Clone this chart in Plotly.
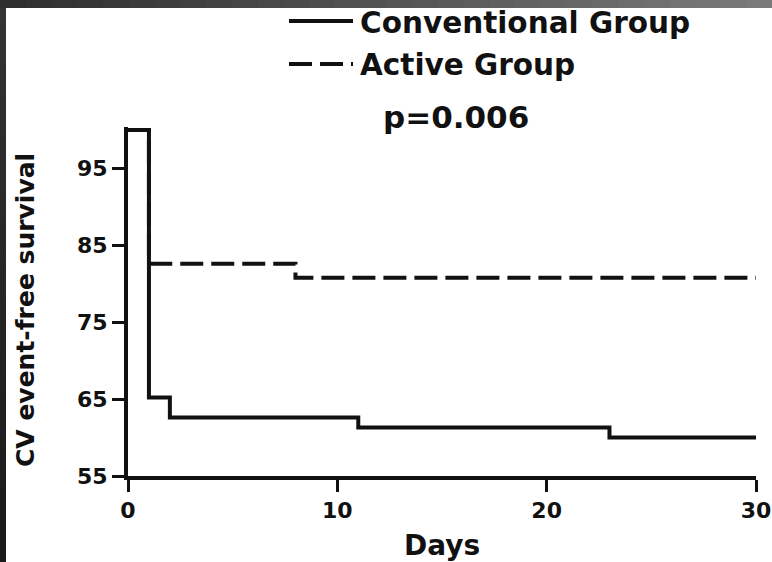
import plotly.graph_objects as go

# ---- data ----
conv_days = [0, 1, 2, 11, 23, 30]
conv_surv = [100, 65.2, 62.6, 61.3, 60.0, 60.0]
act_days = [0, 1, 8, 30]
act_surv = [100, 82.6, 80.8, 80.8]

x_ticks = [0, 10, 20, 30]
y_ticks = [55, 65, 75, 85, 95]

series_names = ["Conventional Group", "Active Group"]
p_text = "p=0.006"
x_title = "Days"
y_title = "CV event-free survival"

W, H = 772, 562
L, R, T, B = 128, 16, 127, 86
PW, PH = W - L - R, H - T - B


def px_x(px):
    return (px - L) / PW


def px_y(py):
    return (H - B - py) / PH


FONT = "DejaVu Sans"
INK = "#111111"
DASH = "23px,8px"

fig = go.Figure()
fig.add_trace(go.Scatter(x=act_days, y=act_surv, mode="lines", line_shape="hv",
                         line=dict(color=INK, width=4, dash=DASH),
                         name=series_names[1], showlegend=False))
fig.add_trace(go.Scatter(x=conv_days, y=conv_surv, mode="lines", line_shape="hv",
                         line=dict(color=INK, width=4),
                         name=series_names[0], showlegend=False))

shapes = []
# dark frame bands (gradient approximated by strips)
n = 30
for i in range(n):
    f = i / (n - 1)
    c = int(0x2e + f * (0x7a - 0x2e))
    shapes.append(dict(type="rect", xref="paper", yref="paper",
                       x0=px_x(i * W / n), x1=px_x((i + 1) * W / n + 1),
                       y0=px_y(8), y1=px_y(0), fillcolor=f"rgb({c},{c},{c})",
                       line=dict(width=0), layer="above"))
for i in range(n):
    f = i / (n - 1)
    c = int(0x33 - f * (0x33 - 0x1a))
    shapes.append(dict(type="rect", xref="paper", yref="paper",
                       x0=px_x(0), x1=px_x(6),
                       y0=px_y(8 + (i + 1) * (H - 8) / n + 1), y1=px_y(8 + i * (H - 8) / n),
                       fillcolor=f"rgb({c},{c},{c})", line=dict(width=0), layer="above"))
# legend samples
shapes.append(dict(type="line", xref="paper", yref="paper",
                   x0=px_x(289), x1=px_x(353), y0=px_y(21), y1=px_y(21),
                   line=dict(color=INK, width=4)))
shapes.append(dict(type="line", xref="paper", yref="paper",
                   x0=px_x(289), x1=px_x(353), y0=px_y(64), y1=px_y(64),
                   line=dict(color=INK, width=4, dash=DASH)))

annotations = [
    dict(text=series_names[0], xref="paper", yref="paper", x=px_x(358), y=px_y(23),
         xanchor="left", yanchor="middle", showarrow=False,
         font=dict(family=FONT, size=29.5, color=INK, weight="bold")),
    dict(text=series_names[1], xref="paper", yref="paper", x=px_x(358), y=px_y(65),
         xanchor="left", yanchor="middle", showarrow=False,
         font=dict(family=FONT, size=29.5, color=INK, weight="bold")),
    dict(text=p_text, xref="paper", yref="paper", x=px_x(456), y=px_y(117),
         xanchor="center", yanchor="middle", showarrow=False,
         font=dict(family=FONT, size=31, color=INK, weight="bold")),
    dict(text=y_title, xref="paper", yref="paper", x=px_x(25), y=px_y(310),
         xanchor="center", yanchor="middle", textangle=-90, showarrow=False,
         font=dict(family=FONT, size=25, color=INK, weight="bold")),
]

axis_common = dict(showline=True, linewidth=4, linecolor=INK, showgrid=False, zeroline=False,
                   ticks="outside", ticklen=12, tickwidth=3, tickcolor=INK, automargin=False,
                   tickfont=dict(family=FONT, size=22, color=INK, weight="bold"))

fig.update_layout(
    width=W, height=H,
    margin=dict(l=L, r=R, t=T, b=B),
    paper_bgcolor="white", plot_bgcolor="white",
    shapes=shapes, annotations=annotations,
    xaxis=dict(range=[0, 30], tickvals=x_ticks, ticktext=[str(v) for v in x_ticks],
               title=dict(text=x_title, standoff=20,
                          font=dict(family=FONT, size=28, color=INK, weight="bold")),
               **axis_common),
    yaxis=dict(range=[55, 100.4], tickvals=y_ticks, ticktext=[str(v) for v in y_ticks],
               **axis_common),
    showlegend=False,
)

fig.write_html("out.html")
